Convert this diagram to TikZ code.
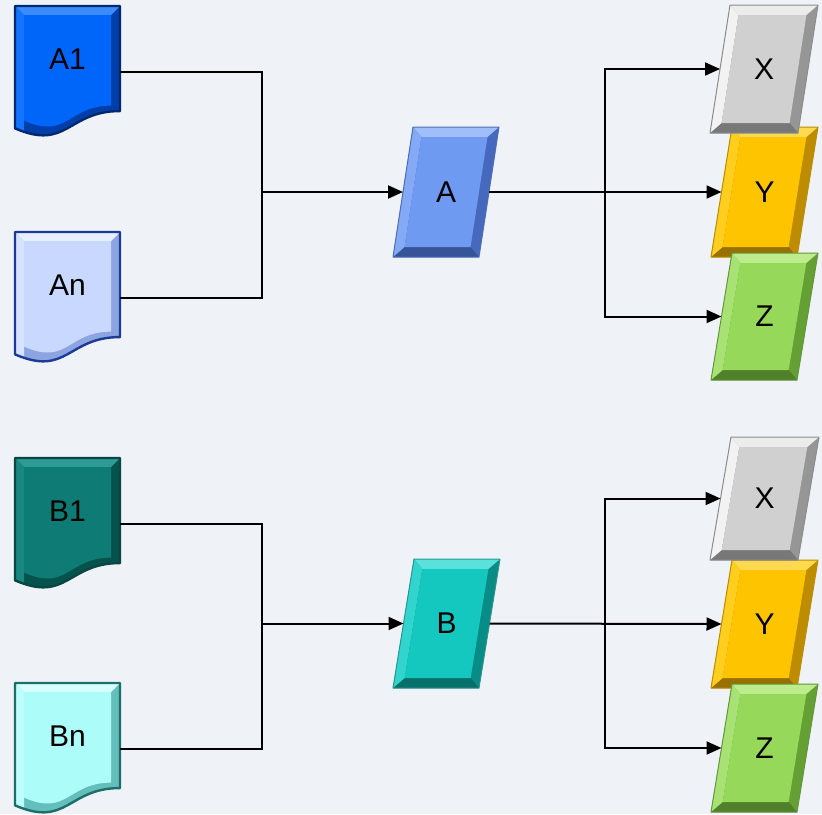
\documentclass[tikz,border=0pt]{standalone}
\usepackage{fontspec}
\setmainfont{Liberation Sans}
\usetikzlibrary{arrows.meta}

\definecolor{bg}{RGB}{239,243,247}
% colour sets: base face, top facet, left facet, dark facets, outline
\definecolor{Aonebase}{RGB}{0,102,250}
\definecolor{Aonetop}{RGB}{60,140,255}
\definecolor{Aoneleft}{RGB}{20,115,255}
\definecolor{Aonedark}{RGB}{0,62,170}
\definecolor{Aoneline}{RGB}{0,40,110}
\definecolor{Anbase}{RGB}{200,216,255}
\definecolor{Antop}{RGB}{232,240,255}
\definecolor{Anleft}{RGB}{214,226,255}
\definecolor{Andark}{RGB}{140,165,225}
\definecolor{Anline}{RGB}{28,58,150}
\definecolor{Aparbase}{RGB}{110,154,242}
\definecolor{Apartop}{RGB}{160,190,250}
\definecolor{Aparleft}{RGB}{132,170,246}
\definecolor{Apardark}{RGB}{70,105,190}
\definecolor{Aparline}{RGB}{80,110,180}
\definecolor{Bonebase}{RGB}{14,124,116}
\definecolor{Bonetop}{RGB}{44,156,148}
\definecolor{Boneleft}{RGB}{24,136,128}
\definecolor{Bonedark}{RGB}{6,82,76}
\definecolor{Boneline}{RGB}{10,70,66}
\definecolor{Bnbase}{RGB}{172,252,250}
\definecolor{Bntop}{RGB}{215,255,255}
\definecolor{Bnleft}{RGB}{190,255,253}
\definecolor{Bndark}{RGB}{100,190,188}
\definecolor{Bnline}{RGB}{30,110,106}
\definecolor{Bparbase}{RGB}{20,200,192}
\definecolor{Bpartop}{RGB}{90,225,220}
\definecolor{Bparleft}{RGB}{50,212,206}
\definecolor{Bpardark}{RGB}{10,140,134}
\definecolor{Bparline}{RGB}{40,150,145}
\definecolor{Xbase}{RGB}{208,208,208}
\definecolor{Xtop}{RGB}{236,236,236}
\definecolor{Xleft}{RGB}{242,242,242}
\definecolor{Xdark}{RGB}{150,150,150}
\definecolor{Xline}{RGB}{140,140,140}
\definecolor{Ybase}{RGB}{255,196,0}
\definecolor{Ytop}{RGB}{255,218,80}
\definecolor{Yleft}{RGB}{255,206,30}
\definecolor{Ydark}{RGB}{190,140,0}
\definecolor{Yline}{RGB}{190,140,0}
\definecolor{Zbase}{RGB}{150,216,90}
\definecolor{Ztop}{RGB}{188,236,140}
\definecolor{Zleft}{RGB}{168,226,116}
\definecolor{Zdark}{RGB}{100,160,52}
\definecolor{Zline}{RGB}{100,150,60}

\tikzset{
  wire/.style={line width=2pt, black},
  flow/.style={wire, -{Triangle[length=15pt,width=13pt]}},
  lab/.style={font=\fontsize{30}{36}\selectfont, text=black},
  anchorbox/.style={inner sep=0pt, outer sep=0pt},
}

\def\bev{10}

% bevelled document shape: #1 name, #2 text, #3 left x, #4 top y, #5 colour set
\newcommand{\mkdoc}[5]{%
  \def\dw{105}\def\dh{131}%
  \begin{scope}
    \path[clip] (#3,#4) -- ({#3+\dw},#4) -- ({#3+\dw},{#4+0.802*\dh})
      .. controls ({#3+\dw/2},{#4+0.802*\dh}) and ({#3+\dw/2},{#4+1.1075*\dh}) .. (#3,{#4+0.934*\dh}) -- cycle;
    \fill[#5dark] (#3,#4) rectangle ({#3+\dw},{#4+\dh+10});
    \fill[#5top] (#3,#4) -- ({#3+\dw},#4) -- ({#3+\dw-9},{#4+9}) -- ({#3+9},{#4+9}) -- cycle;
    \fill[#5left] (#3,#4) -- ({#3+9},{#4+9}) -- ({#3+9},{#4+\dh}) -- (#3,{#4+\dh}) -- cycle;
    \fill[#5base] ({#3+9},{#4+9}) -- ({#3+\dw-9},{#4+9}) -- ({#3+\dw-9},{#4+9+0.802*(\dh-18)})
      .. controls ({#3+\dw/2},{#4+9+0.802*(\dh-18)}) and ({#3+\dw/2},{#4+9+1.1075*(\dh-18)}) .. ({#3+9},{#4+9+0.934*(\dh-18)}) -- cycle;
  \end{scope}
  \draw[#5line, line width=2.4pt, line join=round] (#3,#4) -- ({#3+\dw},#4) -- ({#3+\dw},{#4+0.802*\dh})
      .. controls ({#3+\dw/2},{#4+0.802*\dh}) and ({#3+\dw/2},{#4+1.1075*\dh}) .. (#3,{#4+0.934*\dh}) -- cycle;
  \node[anchorbox, minimum width=105pt, minimum height=131pt] (#1) at ({#3+\dw/2},{#4+\dh/2}) {};
  \node[lab] (#1-t) at ({#3+\dw/2},{#4+53}) {#2};
}

% bevelled parallelogram: #1 name, #2 text, #3 bottom-left x, #4 top y,
% #5 width, #6 height, #7 slant, #8 colour set
\newcommand{\mkpara}[8]{%
  \pgfmathsetmacro\pk{#7*\bev/#6}%
  \coordinate (ptl) at ({#3+#7},{#4});
  \coordinate (ptr) at ({#3+#7+#5},{#4});
  \coordinate (pbr) at ({#3+#5},{#4+#6});
  \coordinate (pbl) at ({#3},{#4+#6});
  \coordinate (qtl) at ({#3+#7-\pk+\bev},{#4+\bev});
  \coordinate (qtr) at ({#3+#7+#5-\pk-\bev},{#4+\bev});
  \coordinate (qbr) at ({#3+#5+\pk-\bev},{#4+#6-\bev});
  \coordinate (qbl) at ({#3+\pk+\bev},{#4+#6-\bev});
  \fill[#8dark] (ptl) -- (ptr) -- (pbr) -- (pbl) -- cycle;
  \fill[#8dark!80!black] (pbl) -- (pbr) -- (qbr) -- (qbl) -- cycle;
  \fill[#8top] (ptl) -- (ptr) -- (qtr) -- (qtl) -- cycle;
  \fill[#8left] (ptl) -- (qtl) -- (qbl) -- (pbl) -- cycle;
  \fill[#8base] (qtl) -- (qtr) -- (qbr) -- (qbl) -- cycle;
  \draw[#8line, line width=1pt, line join=round] (ptl) -- (ptr) -- (pbr) -- (pbl) -- cycle;
  \node[anchorbox, lab, minimum width={#5pt}, minimum height={#6pt}] (#1) at ({#3+#7/2+#5/2},{#4+#6/2}) {#2};
}

\begin{document}
\begin{tikzpicture}[x=1pt, y=-1pt]
  \fill[bg] (0,0) rectangle (822,814);
  \useasboundingbox (0,0) rectangle (822,814);

  % ---- upper group ----
  \mkdoc{A1}{A1}{15}{6}{Aone}
  \mkdoc{An}{An}{15}{232}{An}
  \mkpara{A}{A}{393}{127}{86}{130}{20}{Apar}
  \mkpara{Ya}{Y}{711}{127}{86}{130}{21}{Y}
  \mkpara{Xa}{X}{710}{5}{88}{128}{20}{X}
  \mkpara{Za}{Z}{711}{253}{86}{127}{21}{Z}

  % ---- lower group ----
  \mkdoc{B1}{B1}{15}{458}{Bone}
  \mkdoc{Bn}{Bn}{15}{683}{Bn}
  \mkpara{B}{B}{393}{559}{86}{129}{21}{Bpar}
  \mkpara{Yb}{Y}{711}{560}{86}{128}{21}{Y}
  \mkpara{Xb}{X}{710}{437}{88}{123}{21}{X}
  \mkpara{Zb}{Z}{711}{684}{86}{128}{21}{Z}

  % ---- connectors, upper group ----
  \coordinate (jA) at (262,192);
  \coordinate (sA) at (605,192);
  \draw[wire] (A1.east) -| (jA);
  \draw[wire] (An.east) -| (jA);
  \draw[flow] (jA) -- (A.west);
  \draw[flow] (A.east) -- (Ya.west);
  \draw[flow] (sA) |- (Xa.west);
  \draw[flow] (sA) |- (Za.west);

  % ---- connectors, lower group ----
  \coordinate (jB) at (262,623.5);
  \coordinate (sB) at (605,624);
  \draw[wire] (B1.east) -| (jB);
  \draw[wire] (Bn.east) -| (jB);
  \draw[flow] (jB) -- (B.west);
  \draw[flow] (B.east) -- (Yb.west);
  \draw[flow] (sB) |- (Xb.west);
  \draw[flow] (sB) |- (Zb.west);
\end{tikzpicture}
\end{document}
